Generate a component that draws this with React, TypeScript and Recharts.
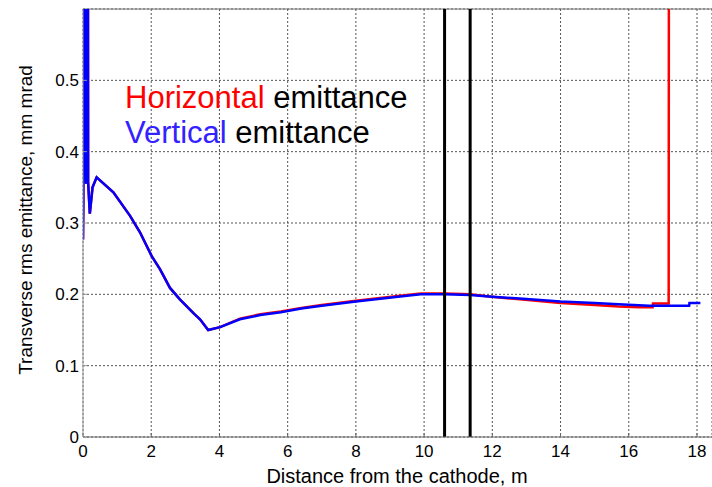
import { LineChart, Line, XAxis, YAxis, CartesianGrid, ReferenceLine } from "recharts";

// distance from the cathode (m) vs transverse rms emittance (mm mrad)
const verticalX = [
  0, 0.01, 0.02, 0.03, 0.04, 0.05, 0.06, 0.07, 0.08, 0.09, 0.1, 0.11, 0.12, 0.13, 0.14, 0.15,
  0.2, 0.28, 0.4, 0.89, 1.38, 1.67, 2.01, 2.26, 2.55, 2.84, 3.23, 3.43, 3.67, 4.02, 4.6, 5.2, 5.8,
  6.4, 7.0, 8.0, 9.3, 9.9, 10.6, 11.35, 11.9, 12.8, 14.0, 15.0, 15.7, 16.6, 17.77, 17.78, 18.1,
];
const verticalY = [
  0.277, 0.33, 0.9, 0.36, 0.9, 0.36, 0.9, 0.36, 0.9, 0.355, 0.9, 0.355, 0.9, 0.355, 0.9, 0.357,
  0.313, 0.35, 0.364, 0.343, 0.31, 0.287, 0.254, 0.235, 0.209, 0.193, 0.174, 0.165, 0.15, 0.154, 0.165, 0.171, 0.175,
  0.18, 0.184, 0.19, 0.197, 0.2, 0.2, 0.199, 0.197, 0.194, 0.19, 0.188, 0.186, 0.184, 0.184, 0.188, 0.188,
];

const horizontalX = [
  0, 0.01, 0.02, 0.03, 0.04, 0.05, 0.06, 0.07, 0.08, 0.09, 0.1, 0.11, 0.12, 0.13, 0.14, 0.15,
  0.2, 0.28, 0.4, 0.89, 1.38, 1.67, 2.01, 2.26, 2.55, 2.84, 3.23, 3.43, 3.67, 4.02, 4.6, 5.2, 5.8,
  6.4, 7.0, 8.0, 9.3, 9.9, 10.6, 11.35, 11.9, 12.8, 14.0, 15.0, 15.7, 16.3, 16.7, 16.71, 17.17, 17.18,
];
const horizontalY = [
  0.277, 0.33, 0.9, 0.36, 0.9, 0.36, 0.9, 0.36, 0.9, 0.355, 0.9, 0.355, 0.9, 0.355, 0.9, 0.357,
  0.313, 0.35, 0.364, 0.343, 0.31, 0.287, 0.254, 0.235, 0.209, 0.193, 0.174, 0.165, 0.15, 0.154, 0.166, 0.172, 0.176,
  0.181, 0.185, 0.191, 0.198, 0.201, 0.201, 0.2, 0.197, 0.193, 0.188, 0.185, 0.183, 0.182, 0.182, 0.187, 0.187, 1.0,
];

const xTicks = [0, 2, 4, 6, 8, 10, 12, 14, 16, 18];
const yTicks = [0, 0.1, 0.2, 0.3, 0.4, 0.5];
const markerLines = [10.6, 11.35];

const font = "'Liberation Sans', Arial, sans-serif";

const toRows = (xs: number[], ys: number[]) => xs.map((x, i) => ({ x, y: ys[i] }));

export default function App() {
  const vertical = toRows(verticalX, verticalY);
  const horizontal = toRows(horizontalX, horizontalY);

  return (
    <div style={{ position: "absolute", left: 0, top: 0, width: 712, height: 487, background: "#fff", fontFamily: font }}>
      <LineChart width={712} height={487} margin={{ top: 9, right: 0, bottom: 0, left: 0 }}>
        <CartesianGrid stroke="#555" strokeDasharray="2 2" />
        <XAxis
          type="number"
          dataKey="x"
          domain={[0, 18.44]}
          ticks={xTicks}
          height={50}
          tickSize={-4}
          tickMargin={12}
          tickLine={{ stroke: "#666" }}
          allowDataOverflow
          axisLine={{ stroke: "#666" }}
          tick={{ fontSize: 17, fill: "#000", fontFamily: font }}
        />
        <YAxis
          type="number"
          domain={[0, 0.6]}
          ticks={yTicks}
          width={83}
          tickSize={-4}
          tickMargin={8}
          tickLine={{ stroke: "#999" }}
          allowDataOverflow
          axisLine={{ stroke: "#999" }}
          tick={{ fontSize: 17, fill: "#000", fontFamily: font }}
        />
        <ReferenceLine y={0.6} stroke="#777" strokeWidth={1} />
        <Line data={horizontal} dataKey="y" type="linear" stroke="#ff0000" strokeWidth={2.5} dot={false} isAnimationActive={false} />
        <Line data={vertical} dataKey="y" type="linear" stroke="#0000ff" strokeWidth={2.5} dot={false} isAnimationActive={false} />
        {markerLines.map((x) => (
          <ReferenceLine key={x} x={x} stroke="#000" strokeWidth={3} />
        ))}
      </LineChart>

      <div style={{ position: "absolute", left: 125, top: 82, fontSize: 31, lineHeight: 1, whiteSpace: "nowrap" }}>
        <span style={{ color: "#ff0000" }}>Horizontal</span> <span style={{ color: "#000" }}>emittance</span>
      </div>
      <div style={{ position: "absolute", left: 125, top: 117, fontSize: 31, lineHeight: 1, whiteSpace: "nowrap" }}>
        <span style={{ color: "#3322ff" }}>Vertical</span> <span style={{ color: "#000" }}>emittance</span>
      </div>

      <div
        style={{
          position: "absolute",
          left: 25,
          top: 220,
          transform: "translate(-50%, -50%) rotate(-90deg)",
          fontSize: 19,
          lineHeight: 1,
          whiteSpace: "nowrap",
        }}
      >
        Transverse rms emittance, mm mrad
      </div>
      <div
        style={{
          position: "absolute",
          left: 397,
          top: 466,
          transform: "translateX(-50%)",
          fontSize: 20,
          lineHeight: 1,
          whiteSpace: "nowrap",
        }}
      >
        Distance from the cathode, m
      </div>
    </div>
  );
}
